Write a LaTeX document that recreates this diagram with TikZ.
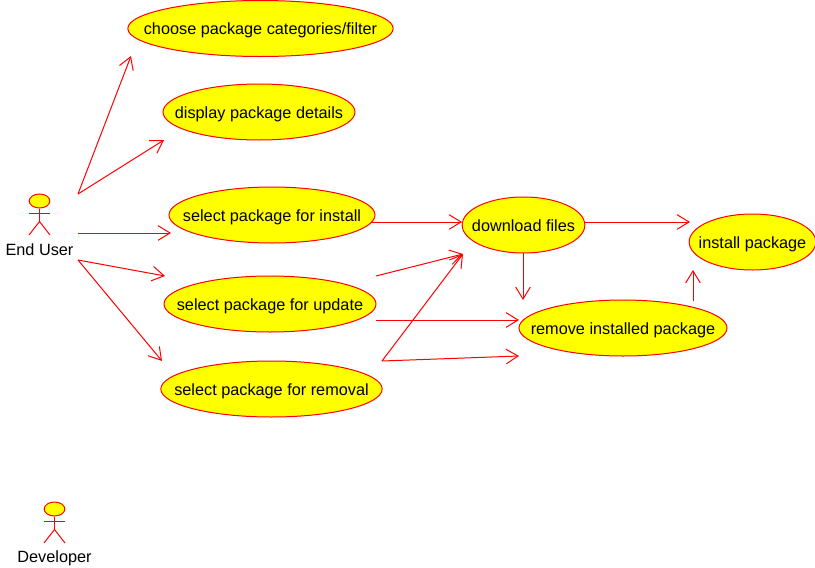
\documentclass[tikz,border=0pt]{standalone}
\usepackage{fontspec}
\setmainfont{Liberation Sans}
\usetikzlibrary{shapes.geometric,arrows.meta}
\definecolor{umlred}{RGB}{255,0,0}
\definecolor{umlyellow}{RGB}{255,255,0}
\tikzset{
	usecase/.style={ellipse,draw=umlred,fill=umlyellow,line width=0.75pt,inner sep=0pt,minimum height=42pt,font=\fontsize{12.2}{14}\selectfont},
	actorlbl/.style={inner sep=0pt,font=\fontsize{12.2}{14}\selectfont},
	link/.style={draw=umlred,line width=0.75pt,-{Straight Barb[length=9pt,width=11pt,line width=0.75pt]}},
	stick/.style={draw=umlred,line width=0.75pt},
}
\begin{document}
\begin{tikzpicture}[x=0.75pt,y=-0.75pt]
	\useasboundingbox (0,0) rectangle (815,568);
	% use cases
	\foreach \name/\cx/\cy/\ewd/\lbl in {
		choose/260.5/28.5/199/{choose package categories/filter},
		details/259/112/144/{display package details},
		install/272/215/154.5/{select package for install},
		update/270/304/159/{select package for update},
		removal/271.5/389/166/{select package for removal},
		download/523.5/225/92/{download files},
		remove/623/328/156/{remove installed package},
		setup/752.5/242/95/{install package}}{
		\node[usecase,minimum width=\ewd pt] (\name) at (\cx,\cy) {\makebox[0pt]{\raisebox{-4.7pt}[0pt][0pt]{\lbl}}};
	}
	% actors
	\foreach \name/\cx/\cy/\lbl in {user/39.5/201/End User,dev/54.5/509/Developer}{
		\node[ellipse,stick,fill=umlyellow,inner sep=0pt,minimum width=15.5pt,minimum height=10.5pt] (\name) at (\cx,\cy) {};
		\draw[stick] (\name.south) -- ++(0,13) coordinate (\name hip);
		\draw[stick] (\cx-10.5,\cy+12) -- (\cx+10.5,\cy+12);
		\draw[stick] (\cx-10.5,\cy+34) -- (\name hip) -- (\cx+10.5,\cy+34);
		\node[actorlbl] (\name lbl) at (\cx,\cy+49) {\lbl};
	}
	% free ends of the links
	\coordinate (userA) at (78,194);
	\coordinate (userB) at (78,233);
	\coordinate (userC) at (78,260);
	\coordinate (chooseIn) at (131,56);
	\coordinate (detailsIn) at (164,140);
	\coordinate (installIn) at (171,233);
	\coordinate (updateIn) at (165,276);
	\coordinate (removalIn) at (162,361);
	\coordinate (installOut) at (372,222);
	\coordinate (updateOutA) at (376,276);
	\coordinate (updateOutB) at (376,320);
	\coordinate (removalOut) at (382,361);
	\coordinate (downloadInA) at (462,222);
	\coordinate (downloadInB) at (463,254);
	\coordinate (downloadOutA) at (585,222);
	\coordinate (downloadOutB) at (523,253);
	\coordinate (removeInA) at (523,300);
	\coordinate (removeInB) at (519,320);
	\coordinate (removeInC) at (519,356);
	\coordinate (removeOut) at (693,301);
	\coordinate (setupInA) at (690,222);
	\coordinate (setupInB) at (693,270);
	% links
	\foreach \from/\to in {userA/chooseIn,userA/detailsIn,userB/installIn,userC/updateIn,userC/removalIn,
		installOut/downloadInA,updateOutA/downloadInB,updateOutB/removeInB,removalOut/downloadInB,removalOut/removeInC,
		downloadOutA/setupInA,downloadOutB/removeInA,removeOut/setupInB}{
		\draw[link] (\from) -- (\to);
	}
\end{tikzpicture}
\end{document}
